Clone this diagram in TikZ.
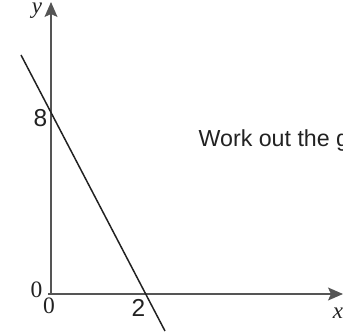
\documentclass[tikz,border=0pt]{standalone}
\usepackage{fontspec}
\setmainfont{Liberation Serif}
\newfontfamily\arialfont{Liberation Sans}
\usetikzlibrary{arrows.meta}
\definecolor{axisgray}{HTML}{555555}
\definecolor{inkdark}{HTML}{222222}
\begin{document}
\begin{tikzpicture}[x=1pt,y=-1pt,
  axisline/.style={draw=axisgray,line width=1.3pt,-{Stealth[length=15pt,width=13pt,inset=3pt]}},
  graphline/.style={draw=inkdark,line width=1.5pt},
  sanslabel/.style={inner sep=0pt,text=inkdark,font=\arialfont\fontsize{24.5}{28}\selectfont},
  tasktext/.style={inner sep=0pt,text=inkdark,font=\arialfont\fontsize{23.2}{27}\selectfont},
  seriflabel/.style={inner sep=0pt,text=inkdark,font=\fontsize{23.5}{27}\selectfont},
  varlabel/.style={inner sep=0pt,text=inkdark,font=\fontsize{23}{27}\selectfont\itshape}]
\useasboundingbox (0,0) rectangle (343,334);
\clip (0,0) rectangle (343,334);
% axes
\coordinate (O) at (51,294);
\coordinate (xstart) at (48,294);
\coordinate (xtip) at (343,294);
\coordinate (ytip) at (51,2);
\draw[axisline] (xstart) -- (xtip);
\draw[axisline] (O) -- (ytip);
% graph line
\coordinate (ltop) at (21,55);
\coordinate (lbot) at (165,331);
\draw[graphline] (ltop) -- (lbot);
% labels
\node[varlabel,anchor=base] (ylab) at (37,14) {y};
\node[varlabel,anchor=base] (xlab) at (338,318) {x};
\node[sanslabel,anchor=base east] (eight) at (47.5,127) {8};
\node[sanslabel,anchor=base] (two) at (138.5,316) {2};
\node[seriflabel,anchor=base] (zeroy) at (36.5,297) {0};
\node[seriflabel,anchor=base] (zerox) at (49,313) {0};
\node[tasktext,anchor=base west] (task) at (198.5,147) {Work out the g};
\end{tikzpicture}
\end{document}
